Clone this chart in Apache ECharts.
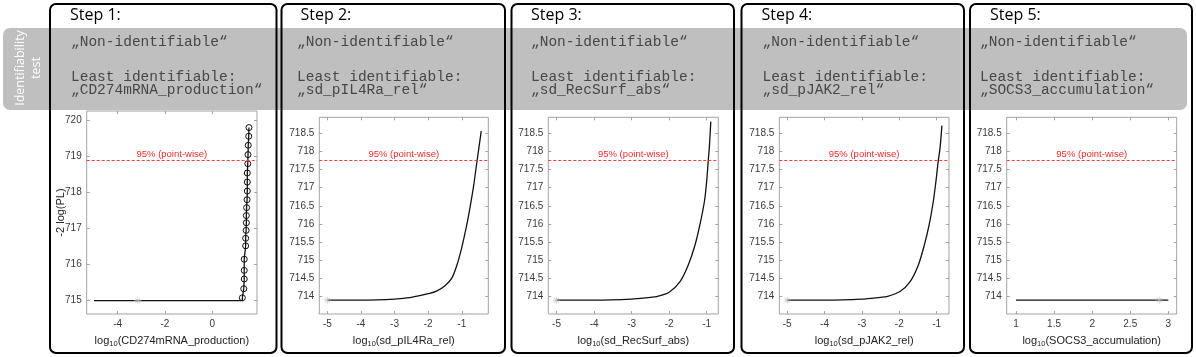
<!DOCTYPE html>
<html>
<head>
<meta charset="utf-8">
<script src="https://cdn.jsdelivr.net/npm/echarts@6/dist/echarts.min.js"></script>
<style>
html, body { margin: 0; padding: 0; background: #fff; }
#main { width: 1196px; height: 357px; }
</style>
</head>
<body>
<div id="main"></div>
<script>
// texts
var stepTitles = ['Step 1:', 'Step 2:', 'Step 3:', 'Step 4:', 'Step 5:'];
var paramNames = ['CD274mRNA_production', 'sd_pIL4Ra_rel', 'sd_RecSurf_abs', 'sd_pJAK2_rel', 'SOCS3_accumulation'];

// axis limits and ticks
var xRanges = [[-5.31, 1.89], [-5.24, -0.21], [-5.22, -0.69], [-5.21, -0.67], [0.878, 3.11]];
var yRanges = [[714.63, 720.26], [713.52, 718.94], [713.52, 718.94], [713.52, 718.94], [713.52, 718.94]];
var xTicks = [[-4, -2, 0], [-5, -4, -3, -2, -1], [-5, -4, -3, -2, -1], [-5, -4, -3, -2, -1], [1, 1.5, 2, 2.5, 3]];
var yTicks1 = [715, 716, 717, 718, 719, 720];
var yTicks2 = [714, 714.5, 715, 715.5, 716, 716.5, 717, 717.5, 718, 718.5];

// 95% point-wise thresholds
var thresholds = [718.89, 717.75, 717.75, 717.75, 717.75];

// profile likelihoods
var p1Flat = [[-5, 715.0], [1.27, 715.0], [1.27, 715.08]];
var p1Circles = [[1.27, 715.08], [1.33, 715.33], [1.35, 715.60], [1.35, 715.84], [1.35, 716.15],
  [1.41, 716.52], [1.41, 716.73], [1.43, 716.95], [1.44, 717.16], [1.44, 717.36], [1.45, 717.58],
  [1.47, 717.80], [1.48, 718.04], [1.48, 718.29], [1.48, 718.54], [1.50, 718.80], [1.51, 719.05],
  [1.52, 719.31], [1.54, 719.56], [1.55, 719.80]];
var p2Curve = [[-5, 713.9], [-4, 713.9], [-3, 713.93], [-2.5, 713.98], [-2, 714.08], [-1.75, 714.15],
  [-1.5, 714.3], [-1.3, 714.5], [-1.15, 714.85], [-1, 715.35], [-0.85, 715.98], [-0.75, 716.48],
  [-0.65, 717.03], [-0.54, 717.77], [-0.42, 718.56]];
var p3Curve = [[-5, 713.9], [-4, 713.9], [-3, 713.93], [-2.5, 713.98], [-2.33, 714.0], [-2.0, 714.12],
  [-1.71, 714.41], [-1.49, 714.87], [-1.31, 715.42], [-1.18, 715.98], [-1.06, 716.62], [-1.0, 717.17],
  [-0.96, 717.72], [-0.93, 718.09], [-0.89, 718.82]];
var p4Curve = [[-5, 713.9], [-4, 713.9], [-3, 713.93], [-2.5, 713.98], [-2.34, 714.0], [-1.98, 714.14],
  [-1.71, 714.41], [-1.49, 714.87], [-1.33, 715.42], [-1.2, 715.98], [-1.09, 716.62], [-1.02, 717.17],
  [-0.96, 717.72], [-0.91, 718.09], [-0.86, 718.71]];
var p5Curve = [[1, 713.9], [3, 713.9]];
var curves = [p1Flat, p2Curve, p3Curve, p4Curve, p5Curve];
// optimum (asterisk)
var optima = [[-3.15, 715.0], [-5, 713.9], [-5, 713.9], [-5, 713.9], [2.88, 713.9]];

// layout
var grids = [
  {left: 86.7, top: 111, width: 170.3, height: 203},
  {left: 319.3, top: 117.3, width: 169, height: 196.7},
  {left: 548.3, top: 117.3, width: 170, height: 196.7},
  {left: 779.3, top: 117.3, width: 169.7, height: 196.7},
  {left: 1006.7, top: 117.3, width: 170, height: 196.7}
];
var panelBoxes = [[50, 276.5], [281.5, 505], [511.5, 734], [741.5, 964], [970, 1192]];
var stepX = [70, 300.5, 531, 761.5, 990];
var textX = [71, 297, 531, 762.5, 980];

var starPath = 'path://M4.5 0L5.5 0L5.5 10L4.5 10Z M0 4.5L10 4.5L10 5.5L0 5.5Z M1.1 1.8L1.8 1.1L8.9 8.2L8.2 8.9Z M8.2 1.1L8.9 1.8L1.8 8.9L1.1 8.2Z';
var frameColor = '#a3a3a3';
var labelColor = '#3a3a3a';

var xAxis = [], yAxis = [], series = [], graphic = [];

grids.forEach(function (g, i) {
  g.show = true;
  g.borderColor = frameColor;
  g.borderWidth = 1;
  g.backgroundColor = '#fff';
  var yt = i === 0 ? yTicks1 : yTicks2;
  var tickStyle = {show: true, inside: true, length: 3, lineStyle: {color: frameColor}};
  var noLine = {show: false, onZero: false};
  xAxis.push({
    type: 'value', gridIndex: i, position: 'bottom', min: xRanges[i][0], max: xRanges[i][1],
    axisLine: noLine, splitLine: {show: false},
    axisTick: Object.assign({customValues: xTicks[i]}, tickStyle),
    axisLabel: {customValues: xTicks[i], color: labelColor, fontSize: 10, fontFamily: 'Liberation Sans', margin: 5},
    name: '{a|log}{s|10}{a|(' + paramNames[i] + ')}',
    nameLocation: 'middle', nameGap: 20, nameMoveOverlap: false,
    nameTextStyle: {
      rich: {
        a: {fontSize: 11, fontFamily: 'Liberation Sans', color: '#222'},
        s: {fontSize: 7.5, fontFamily: 'Liberation Sans', color: '#222', padding: [6, 0, 0, 0]}
      }
    }
  });
  xAxis.push({
    type: 'value', gridIndex: i, position: 'top', min: xRanges[i][0], max: xRanges[i][1],
    axisLine: noLine, splitLine: {show: false}, axisLabel: {show: false},
    axisTick: Object.assign({customValues: xTicks[i]}, tickStyle)
  });
  yAxis.push({
    type: 'value', gridIndex: i, position: 'left', min: yRanges[i][0], max: yRanges[i][1],
    axisLine: noLine, splitLine: {show: false},
    axisTick: Object.assign({customValues: yt}, tickStyle),
    axisLabel: {customValues: yt, color: labelColor, fontSize: 10, fontFamily: 'Liberation Sans', margin: 5},
    name: i === 0 ? '-2 log(PL)' : '',
    nameLocation: 'middle', nameRotate: 90, nameGap: 20, nameMoveOverlap: false,
    nameTextStyle: {fontSize: 11, fontFamily: 'Liberation Sans', color: '#222'}
  });
  yAxis.push({
    type: 'value', gridIndex: i, position: 'right', min: yRanges[i][0], max: yRanges[i][1],
    axisLine: noLine, splitLine: {show: false}, axisLabel: {show: false},
    axisTick: Object.assign({customValues: yt}, tickStyle)
  });

  // threshold line on its own empty series
  series.push({
    type: 'line', xAxisIndex: 2 * i, yAxisIndex: 2 * i, data: [], z: 2,
    markLine: {
      silent: true, symbol: ['none', 'none'],
      lineStyle: {color: '#ff3c3c', type: [3, 2], width: 1},
      label: {position: 'insideMiddleTop', formatter: '95% (point-wise)', color: '#ff2a2a',
        fontSize: 9.5, fontFamily: 'Liberation Sans', distance: 1},
      data: [{yAxis: thresholds[i]}]
    }
  });
  series.push({
    type: 'line', xAxisIndex: 2 * i, yAxisIndex: 2 * i, data: curves[i],
    showSymbol: false, smooth: i === 0 ? false : 0.3, z: 3,
    lineStyle: {color: '#111', width: 1.3}
  });
  series.push({
    type: 'scatter', xAxisIndex: 2 * i, yAxisIndex: 2 * i, data: [optima[i]],
    symbol: starPath, symbolSize: 7, z: 4, itemStyle: {color: '#b8b8b8'}
  });

  // panel frame, step title, identifiability text
  var bx = panelBoxes[i];
  graphic.push({
    type: 'rect', z: 20, shape: {x: bx[0], y: 4, width: bx[1] - bx[0], height: 349, r: 6},
    style: {fill: null, stroke: '#000', lineWidth: 2}
  });
  graphic.push({
    type: 'text', z: 20, x: stepX[i], y: 15,
    style: {text: stepTitles[i], font: '16px "Open Sans"', fill: '#000', verticalAlign: 'middle'}
  });
  var mono = '14.5px "Liberation Mono"';
  var monoColor = '#474747';
  graphic.push({
    type: 'text', z: 20, x: textX[i], y: 42,
    style: {text: '\u201eNon-identifiable\u201c', font: mono, fill: monoColor, verticalAlign: 'middle'}
  });
  graphic.push({
    type: 'text', z: 20, x: textX[i], y: 77.5,
    style: {text: 'Least identifiable:', font: mono, fill: monoColor, verticalAlign: 'middle'}
  });
  graphic.push({
    type: 'text', z: 20, x: textX[i], y: 90.5,
    style: {text: '\u201e' + paramNames[i] + '\u201c', font: mono, fill: monoColor, verticalAlign: 'middle'}
  });
});

// circles of step 1
series.push({
  type: 'line', xAxisIndex: 0, yAxisIndex: 0, data: p1Circles, z: 3,
  symbol: 'circle', symbolSize: 6, showSymbol: true,
  lineStyle: {color: '#111', width: 1.3},
  itemStyle: {color: 'rgba(0,0,0,0)', borderColor: '#111', borderWidth: 1}
});

// gray band + side label
graphic.unshift({
  type: 'rect', z: 1, shape: {x: 3, y: 28, width: 1184, height: 82, r: 7},
  style: {fill: '#bfbfbf'}
});
graphic.push({
  type: 'text', z: 20, x: 28, y: 68, rotation: Math.PI / 2,
  style: {text: 'Identifiability\ntest', font: '12.5px "Open Sans"', fill: '#fff',
    align: 'center', verticalAlign: 'middle', lineHeight: 16}
});

var myChart = echarts.init(document.getElementById('main'));
myChart.setOption({
  animation: false,
  grid: grids,
  xAxis: xAxis,
  yAxis: yAxis,
  series: series,
  graphic: graphic
});
</script>
</body>
</html>
